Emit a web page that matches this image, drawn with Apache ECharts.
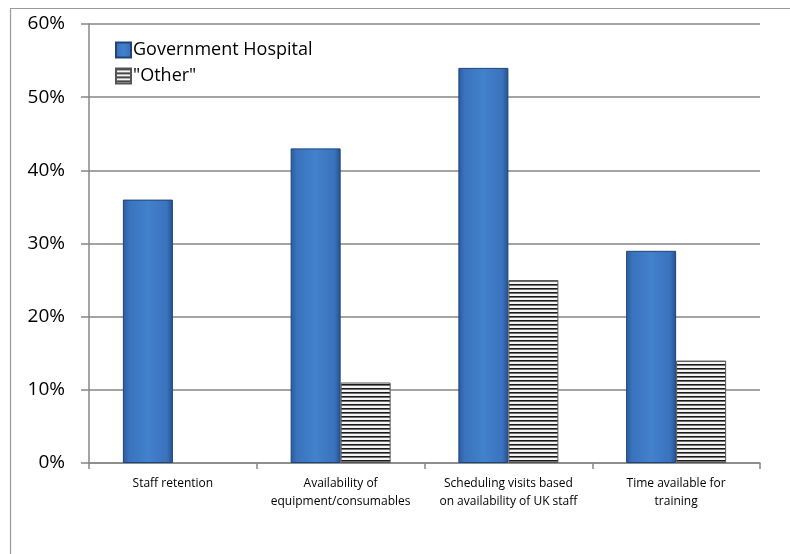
<!DOCTYPE html>
<html><head><meta charset="utf-8">
<script src="https://cdn.jsdelivr.net/npm/echarts@6/dist/echarts.min.js"></script>
<style>html,body{margin:0;padding:0;background:#fff}#c{width:790px;height:554px}</style>
</head><body><div id="c"></div>
<script>
const categories = ["Staff retention", "Availability of\nequipment/consumables", "Scheduling visits based\non availability of UK staff", "Time available for\ntraining"];
const govHospital = [36, 43, 54, 29];
const otherValues = [0, 11, 25, 14];
const yTicks = [0, 10, 20, 30, 40, 50, 60];

function stripePattern() {
  const c = document.createElement('canvas');
  c.width = 4; c.height = 4;
  const ctx = c.getContext('2d');
  ctx.fillStyle = '#f4f4f4';
  ctx.fillRect(0, 0, 4, 4);
  ctx.fillStyle = '#1a1a1a';
  ctx.fillRect(0, 0, 4, 1.6);
  return c;
}

const blueGrad = new echarts.graphic.LinearGradient(0, 0, 1, 0, [
  {offset: 0, color: '#2a5b9f'},
  {offset: 0.12, color: '#3a72bd'},
  {offset: 0.5, color: '#4281cc'},
  {offset: 0.88, color: '#3a72bd'},
  {offset: 1, color: '#24508f'}
]);

const otherData = otherValues.map(v => v === 0 ? {value: v, itemStyle: {opacity: 0, borderWidth: 0}} : v);

const chart = echarts.init(document.getElementById('c'));
chart.setOption({
  animation: false,
  graphic: [{
    type: 'rect', shape: {x: 10.5, y: 8.5, width: 800, height: 600},
    style: {fill: 'none', stroke: '#9a9a9a', lineWidth: 1.2}, z: -1
  }],
  grid: {left: 89, top: 24, width: 671, height: 439},
  legend: {
    left: 110, top: 36, orient: 'vertical', itemGap: 8,
    itemWidth: 15, itemHeight: 15,
    textStyle: {fontFamily: 'Open Sans', fontSize: 18, color: '#000', padding: [0,0,0,-3]},
    data: [
      {name: 'Government Hospital', icon: 'rect'},
      {name: '"Other"', icon: 'rect'}
    ]
  },
  xAxis: {
    type: 'category', data: categories,
    axisLine: {lineStyle: {color: '#868686', width: 1.5}},
    axisTick: {show: true, length: 6, lineStyle: {color: '#868686', width: 1.5}},
    axisLabel: {interval: 0, fontFamily: 'Open Sans', fontSize: 12, color: '#000', lineHeight: 18, margin: 12}
  },
  yAxis: {
    type: 'value', min: 0, max: 60, interval: 10,
    axisLine: {show: true, lineStyle: {color: '#868686', width: 1.5}},
    axisTick: {show: true, length: 8, lineStyle: {color: '#868686', width: 1.5}},
    splitLine: {lineStyle: {color: '#868686', width: 1.5}},
    axisLabel: {fontFamily: 'Open Sans', fontSize: 19, color: '#000', margin: 24,
      formatter: v => yTicks.includes(v) ? v + '%' : ''}
  },
  series: [
    {name: 'Government Hospital', type: 'bar', data: govHospital, barWidth: 50, barGap: '0%',
      itemStyle: {color: blueGrad, borderColor: '#1e4478', borderWidth: 1}},
    {name: '"Other"', type: 'bar', data: otherData, barWidth: 50,
      itemStyle: {color: {image: stripePattern(), repeat: 'repeat'}, borderColor: '#555', borderWidth: 1}}
  ]
});
</script></body></html>
